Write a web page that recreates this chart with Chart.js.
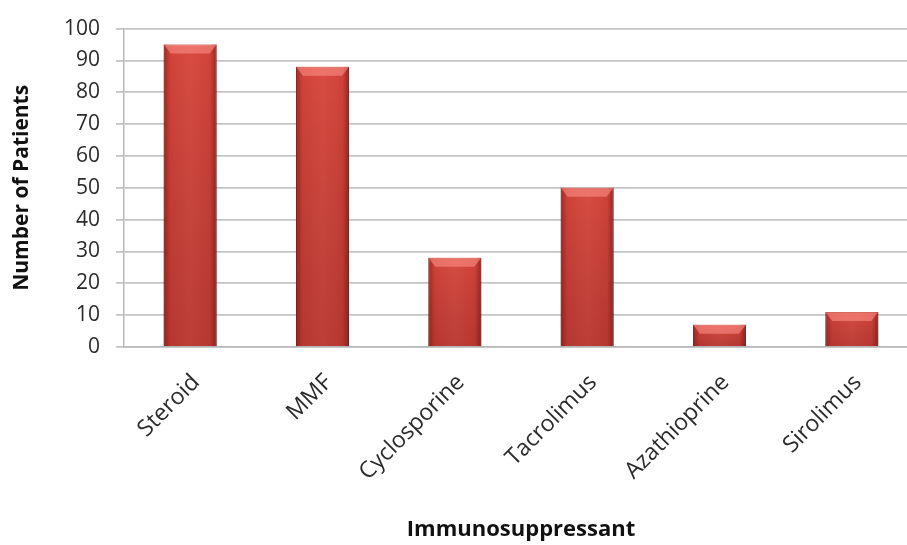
<!DOCTYPE html>
<html>
<head>
<meta charset="utf-8">
<script src="https://cdn.jsdelivr.net/npm/chart.js@4/dist/chart.umd.min.js"></script>
<style>
  html, body { margin: 0; padding: 0; background: #fff; overflow: hidden; }
  #wrap { position: relative; width: 922px; height: 545px; }
</style>
</head>
<body>
<div id="wrap"><canvas id="chart"></canvas></div>
<script>
// Immunosuppressant usage counts
const categories = ['Steroid', 'MMF', 'Cyclosporine', 'Tacrolimus', 'Azathioprine', 'Sirolimus'];
const patients = [95, 88, 28, 50, 7, 11];
const yTicks = [0, 10, 20, 30, 40, 50, 60, 70, 80, 90, 100];

const FONT = '"Open Sans", Lato, sans-serif';

// Shades each bar like a rounded bevelled column: dark edges, bright middle, lit top cap
const bevelBars = {
  id: 'bevelBars',
  afterDatasetsDraw(chart) {
    const ctx = chart.ctx;
    chart.getDatasetMeta(0).data.forEach(bar => {
      const w = bar.width;
      const x0 = bar.x - w / 2, x1 = bar.x + w / 2;
      const top = bar.y, base = bar.base;
      const h = base - top;
      ctx.save();
      // horizontal shading
      const g = ctx.createLinearGradient(x0, 0, x1, 0);
      g.addColorStop(0, 'rgba(90,10,10,0.45)');
      g.addColorStop(0.12, 'rgba(90,10,10,0.05)');
      g.addColorStop(0.5, 'rgba(255,255,255,0.04)');
      g.addColorStop(0.88, 'rgba(90,10,10,0.05)');
      g.addColorStop(1, 'rgba(90,10,10,0.5)');
      ctx.fillStyle = g;
      ctx.fillRect(x0, top, w, h);
      // vertical darkening towards base
      const gv = ctx.createLinearGradient(0, top, 0, base);
      gv.addColorStop(0, 'rgba(0,0,0,0)');
      gv.addColorStop(1, 'rgba(60,0,0,0.18)');
      ctx.fillStyle = gv;
      ctx.fillRect(x0, top, w, h);
      // top bevel cap
      const cap = Math.min(9, h / 2);
      const inset = Math.min(7, w / 6);
      ctx.beginPath();
      ctx.moveTo(x0, top);
      ctx.lineTo(x1, top);
      ctx.lineTo(x1 - inset, top + cap);
      ctx.lineTo(x0 + inset, top + cap);
      ctx.closePath();
      ctx.fillStyle = 'rgba(255,150,140,0.55)';
      ctx.fill();
      ctx.restore();
    });
  }
};

new Chart(document.getElementById('chart'), {
  type: 'bar',
  data: {
    labels: categories,
    datasets: [{
      label: 'Number of Patients',
      data: patients,
      backgroundColor: '#d6453b',
      borderColor: '#a8302a',
      borderWidth: 1,
      barPercentage: 0.4,
      categoryPercentage: 1.0
    }]
  },
  options: {
    responsive: true,
    maintainAspectRatio: false,
    animation: false,
    layout: { padding: { top: 16, right: 4, left: 0, bottom: 0 } },
    plugins: {
      legend: { display: false },
      tooltip: { enabled: false }
    },
    scales: {
      x: {
        grid: { display: false, drawTicks: false },
        border: { display: true, color: '#b8b8b8', width: 1.5 },
        ticks: {
          color: '#2a2a2a',
          font: { family: FONT, size: 23 },
          minRotation: 45,
          maxRotation: 45,
          padding: 22,
          labelOffset: 6
        },
        title: {
          display: true,
          text: 'Immunosuppressant',
          color: '#111',
          font: { family: FONT, size: 22, weight: 'bold' },
          padding: { top: 4, bottom: 2 }
        },
        afterFit(scale) { scale.height = 198; }
      },
      y: {
        min: 0,
        max: 100,
        afterBuildTicks(scale) { scale.ticks = yTicks.map(v => ({ value: v })); },
        grid: { color: '#c4c4c4', lineWidth: 1.8, tickLength: 8 },
        border: { display: true, color: '#b8b8b8', width: 1.5 },
        ticks: {
          color: '#2a2a2a',
          font: { family: FONT, size: 21 },
          padding: 16
        },
        title: {
          display: true,
          text: 'Number of Patients',
          color: '#111',
          font: { family: FONT, size: 21, weight: 'bold' },
          padding: { top: 9, bottom: 4 }
        },
        afterFit(scale) { scale.width = 124; }
      }
    }
  },
  plugins: [bevelBars]
});
</script>
</body>
</html>
